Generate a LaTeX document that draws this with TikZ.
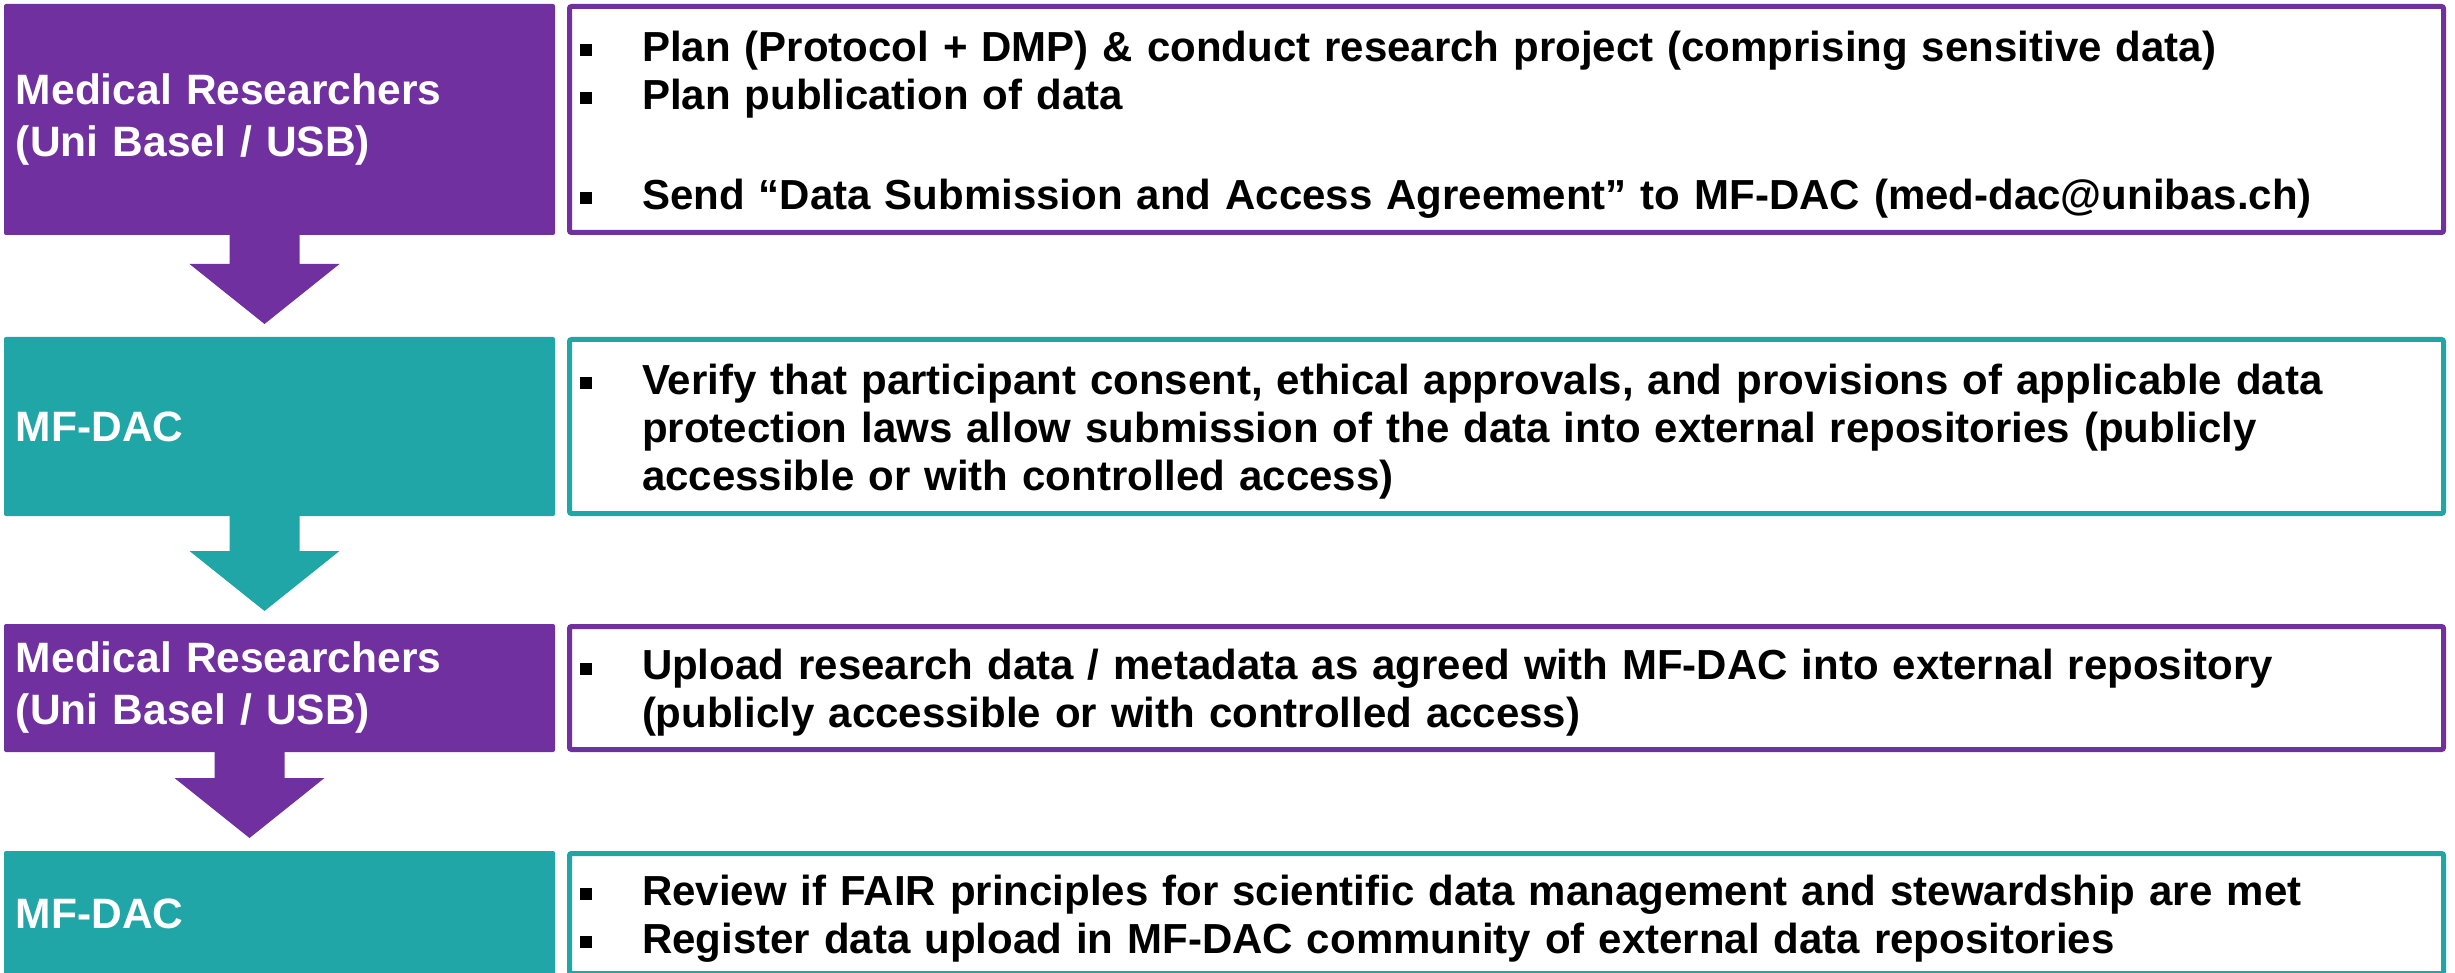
\documentclass[tikz,border=0pt]{standalone}
\usepackage{fontspec}
\setmainfont{Liberation Sans}
\usetikzlibrary{positioning,calc}

\definecolor{mfpurple}{RGB}{112,48,160}
\definecolor{mfteal}{RGB}{32,166,166}

% one bullet line with hanging indent
\newcommand{\sqitem}[1]{\par\noindent\hangindent=62pt\hangafter=1\makebox[62pt][l]{\rule[5pt]{12pt}{12pt}}#1\par}
% two-line actor label, set a little lower
\newcommand{\actorlines}[2]{\raisebox{-5pt}{#1}\\\raisebox{-5pt}{#2}}
% block arrow: colour, upper node, lower node, x shift
\newcommand{\flowarrow}[4]{%
  \fill[#1] ($(#2.south)+(#4-35pt,0pt)$) |- ($(#3.north)+(#4-75pt,73pt)$)
    -- ($(#3.north)+(#4,13pt)$) -- ++(75pt,60pt) -| ($(#2.south)+(#4+35pt,0pt)$) -- cycle;}

\begin{document}
\begin{tikzpicture}[node distance=12pt]
	\tikzstyle{actor}=[rectangle, rounded corners=2pt, text=white, outer sep=0pt,
	  font=\bfseries\fontsize{42.5}{52}\selectfont, minimum width=551pt,
	  text width=527pt, inner xsep=12pt, align=left]
	\tikzstyle{task}=[rectangle, rounded corners=2pt, draw, line width=5pt, fill=white,
	  outer sep=2.5pt, font=\bfseries\fontsize{42}{48}\selectfont, minimum width=1874pt,
	  text width=1853pt, inner xsep=10.5pt, align=left,
	  execute at begin node={\vspace*{-8pt}}]
	\useasboundingbox (0,0) rectangle (2455pt,-973pt);

	\node[actor, fill=mfpurple, minimum height=231pt, anchor=north west] (res1) at (4pt,-4pt)
	  {\actorlines{Medical Researchers}{(Uni Basel / USB)}};
	\node[actor, fill=mfteal, minimum height=179pt, below=102pt of res1] (dac1) {MF-DAC};
	\node[actor, fill=mfpurple, minimum height=128pt, below=108pt of dac1] (res2)
	  {\actorlines{Medical Researchers}{(Uni Basel / USB)}};
	\node[actor, fill=mfteal, minimum height=125pt, below=99pt of res2] (dac2) {MF-DAC};

	\node[task, draw=mfpurple, minimum height=226pt, right=of res1] (res1task) {%
	  \sqitem{Plan (Protocol + DMP) \& conduct research project (comprising sensitive data)}
	  \sqitem{Plan publication of data}\vspace{52pt}
	  \sqitem{Send “Data Submission and Access Agreement” to MF-DAC (med-dac@unibas.ch)}};
	\node[task, draw=mfteal, minimum height=174pt, right=of dac1] (dac1task) {%
	  \sqitem{Verify that participant consent, ethical approvals, and provisions of applicable data\newline
	  protection laws allow submission of the data into external repositories (publicly\newline
	  accessible or with controlled access)}};
	\node[task, draw=mfpurple, minimum height=123pt, right=of res2] (res2task) {%
	  \sqitem{Upload research data / metadata as agreed with MF-DAC into external repository\newline
	  (publicly accessible or with controlled access)}};
	\node[task, draw=mfteal, minimum height=120pt, right=of dac2] (dac2task) {%
	  \sqitem{Review if FAIR principles for scientific data management and stewardship are met}
	  \sqitem{Register data upload in MF-DAC community of external data repositories}};

	% arrows between the actors
	\flowarrow{mfpurple}{res1}{dac1}{-15pt}
	\flowarrow{mfteal}{dac1}{res2}{-15pt}
	\flowarrow{mfpurple}{res2}{dac2}{-30pt}
\end{tikzpicture}
\end{document}
